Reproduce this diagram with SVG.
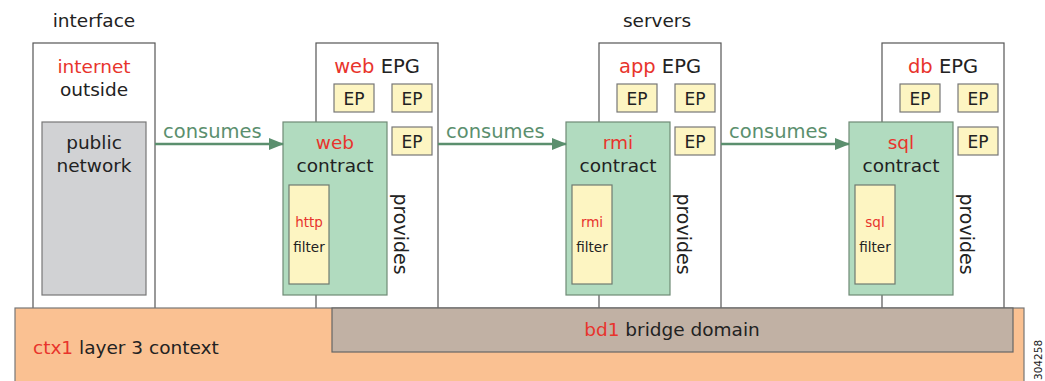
<svg xmlns="http://www.w3.org/2000/svg" width="1045" height="381" viewBox="0 0 1045 381">
<defs>
<style>
text{font-family:"DejaVu Sans","Liberation Sans",Arial,sans-serif;fill:#222;}
.r{fill:#e8342c;}
.t{font-size:18.5px;text-anchor:middle;}
.hd{font-size:19.5px;text-anchor:middle;}
.ep{fill:#fdf5c2;stroke:#777;stroke-width:1.2;}
.epg{fill:#fff;stroke:#555;stroke-width:1.2;}
.ct{fill:#b1dbbf;stroke:#6f8a76;stroke-width:1.2;}
.flt{fill:#fdf5c2;stroke:#6f7a70;stroke-width:1.2;}
.ept{font-size:17px;text-anchor:middle;}
.ft{font-size:13.5px;text-anchor:middle;}
.pv{font-size:19px;text-anchor:middle;}
.cons{font-size:19.5px;fill:#5b8f6e;}
.arr{stroke:#5b8f6e;stroke-width:2.5;fill:none;}
</style>
<marker id="ah" markerWidth="15" markerHeight="12" refX="14" refY="6" orient="auto" markerUnits="userSpaceOnUse">
<path d="M0,0 L15,6 L0,12 Z" fill="#5b8f6e"/>
</marker>
</defs>

<text x="94" y="27" class="t">interface</text>
<text x="657" y="27" class="t">servers</text>

<g id="interface">
<rect x="33" y="43" width="122" height="268" class="epg"/>
<text x="94" y="73" class="t"><tspan class="r">internet</tspan></text>
<text x="94" y="96" class="t">outside</text>
<rect x="42" y="122" width="104" height="173" fill="#d1d2d4" stroke="#777" stroke-width="1.2"/>
<text x="94" y="149" class="t">public</text>
<text x="94" y="172" class="t">network</text>
</g>

<g id="web-epg">
<rect x="316" y="43" width="122" height="268" class="epg"/>
<text x="377" y="73" class="hd"><tspan class="r">web</tspan> EPG</text>
<rect x="334" y="84" width="40" height="28" class="ep"/><text x="354" y="105" class="ept">EP</text>
<rect x="392" y="84" width="40" height="28" class="ep"/><text x="412" y="105" class="ept">EP</text>
<rect x="392" y="127" width="40" height="28" class="ep"/><text x="412" y="148" class="ept">EP</text>
<text transform="translate(394,234) rotate(90)" class="pv">provides</text>
</g>
<g id="web-contract">
<rect x="283" y="122" width="104" height="173" class="ct"/>
<text x="335" y="149" class="t"><tspan class="r">web</tspan></text>
<text x="335" y="172" class="t">contract</text>
<rect x="289" y="185" width="40" height="99" class="flt"/>
<text x="309" y="227" class="ft"><tspan class="r">http</tspan></text>
<text x="309" y="252" class="ft">filter</text>
</g>

<g id="app-epg">
<rect x="599" y="43" width="122" height="268" class="epg"/>
<text x="660" y="73" class="hd"><tspan class="r">app</tspan> EPG</text>
<rect x="617" y="84" width="40" height="28" class="ep"/><text x="637" y="105" class="ept">EP</text>
<rect x="675" y="84" width="40" height="28" class="ep"/><text x="695" y="105" class="ept">EP</text>
<rect x="675" y="127" width="40" height="28" class="ep"/><text x="695" y="148" class="ept">EP</text>
<text transform="translate(677,234) rotate(90)" class="pv">provides</text>
</g>
<g id="rmi-contract">
<rect x="566" y="122" width="104" height="173" class="ct"/>
<text x="618" y="149" class="t"><tspan class="r">rmi</tspan></text>
<text x="618" y="172" class="t">contract</text>
<rect x="572" y="185" width="40" height="99" class="flt"/>
<text x="592" y="227" class="ft"><tspan class="r">rmi</tspan></text>
<text x="592" y="252" class="ft">filter</text>
</g>

<g id="db-epg">
<rect x="882" y="43" width="122" height="268" class="epg"/>
<text x="943" y="73" class="hd"><tspan class="r">db</tspan> EPG</text>
<rect x="900" y="84" width="40" height="28" class="ep"/><text x="920" y="105" class="ept">EP</text>
<rect x="958" y="84" width="40" height="28" class="ep"/><text x="978" y="105" class="ept">EP</text>
<rect x="958" y="127" width="40" height="28" class="ep"/><text x="978" y="148" class="ept">EP</text>
<text transform="translate(960,234) rotate(90)" class="pv">provides</text>
</g>
<g id="sql-contract">
<rect x="849" y="122" width="104" height="173" class="ct"/>
<text x="901" y="149" class="t"><tspan class="r">sql</tspan></text>
<text x="901" y="172" class="t">contract</text>
<rect x="855" y="185" width="40" height="99" class="flt"/>
<text x="875" y="227" class="ft"><tspan class="r">sql</tspan></text>
<text x="875" y="252" class="ft">filter</text>
</g>

<g id="ctx1">
<rect x="15" y="308" width="1009" height="80" fill="#fac192" stroke="#777" stroke-width="1.2"/>
<text x="33" y="354" style="font-size:18.5px"><tspan class="r">ctx1</tspan> layer 3 context</text>
</g>
<g id="bd1">
<rect x="332" y="308" width="681" height="44" fill="#c1b1a4" stroke="#666" stroke-width="1.2"/>
<text x="672" y="336" class="t"><tspan class="r">bd1</tspan> bridge domain</text>
</g>

<g id="connectors">
<line x1="155" y1="144" x2="283" y2="144" class="arr" marker-end="url(#ah)"/>
<line x1="438" y1="144" x2="566" y2="144" class="arr" marker-end="url(#ah)"/>
<line x1="721" y1="144" x2="849" y2="144" class="arr" marker-end="url(#ah)"/>
<text x="163" y="138" class="cons">consumes</text>
<text x="446" y="138" class="cons">consumes</text>
<text x="729" y="138" class="cons">consumes</text>
</g>

<text transform="translate(1042,380) rotate(-90)" style="font-size:10.5px">304258</text>
</svg>
